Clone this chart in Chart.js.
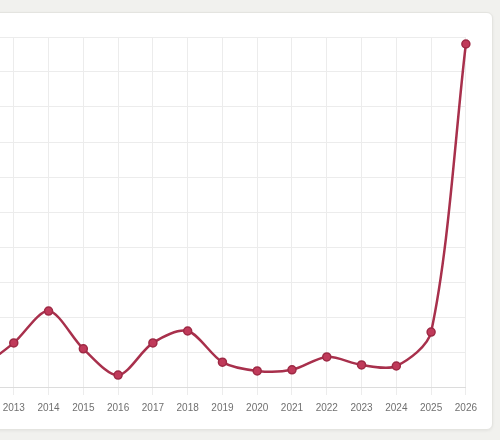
<!DOCTYPE html>
<html>
<head>
<meta charset="utf-8">
<script src="https://cdn.jsdelivr.net/npm/chart.js@4.4.1/dist/chart.umd.min.js"></script>
<style>
    html, body {
        margin: 0;
        padding: 0;
        width: 500px;
        height: 440px;
        overflow: hidden;
        background: #f1f1ee;
    }
    .card {
        position: absolute;
        left: -20px;
        top: 12px;
        width: 511px;
        height: 416px;
        background: #ffffff;
        border: 1px solid #e4e4e0;
        border-radius: 6px;
        box-shadow: 0 1px 3px rgba(0, 0, 0, 0.06);
    }
    #trend-chart {
        position: absolute;
        left: -52px;
        top: 20px;
    }
</style>
</head>
<body>
<div class="card"></div>
<canvas id="trend-chart" width="536" height="410"></canvas>
<script>
// Years along the bottom (2012 sits just off the left edge, like the crop)
const years = ['2012', '2013', '2014', '2015', '2016', '2017', '2018', '2019',
    '2020', '2021', '2022', '2023', '2024', '2025', '2026'];
// Values (y axis 0..100, labels cropped away)
const values = [5, 12.6, 21.7, 10.9, 3.4, 12.6, 16, 7.1, 4.6, 4.9, 8.6, 6.3, 6, 15.7, 98];
const yMin = 0;
const yMax = 100;
const yStep = 10;

// Chart Global Color
Chart.defaults.color = '#707070';
Chart.defaults.font.family = "'Liberation Sans', Arial, sans-serif";
Chart.defaults.font.size = 10;

const ctx = document.getElementById('trend-chart').getContext('2d');
const trendChart = new Chart(ctx, {
    type: 'line',
    data: {
        labels: years,
        datasets: [{
            data: values,
            borderColor: '#a8304c',
            borderWidth: 2.5,
            backgroundColor: '#c03a5a',
            pointBackgroundColor: '#c03a5a',
            pointBorderColor: '#9e2a45',
            pointBorderWidth: 1.5,
            pointRadius: 4,
            tension: 0.3,
            fill: false
        }]
    },
    options: {
        responsive: false,
        animation: false,
        layout: {
            padding: { left: 31, right: 10, top: 17, bottom: 9 }
        },
        plugins: {
            legend: { display: false },
            tooltip: { enabled: false }
        },
        scales: {
            x: {
                offset: false,
                grid: { color: '#ececec', tickLength: 8 },
                border: { color: '#dcdcdc' },
                ticks: { padding: 7, maxRotation: 0, autoSkip: false, color: '#707070' }
            },
            y: {
                min: yMin,
                max: yMax,
                ticks: { display: false, stepSize: yStep },
                grid: { color: '#ececec', drawTicks: false },
                border: { display: false }
            }
        }
    }
});
</script>
</body>
</html>
